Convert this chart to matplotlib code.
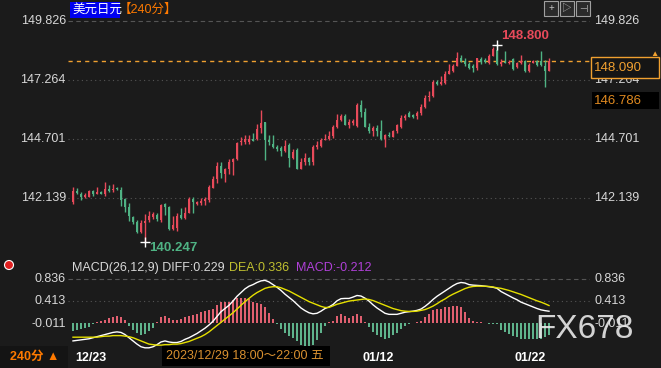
import matplotlib
matplotlib.use("Agg")
import matplotlib.pyplot as plt
from matplotlib.patches import Rectangle, Ellipse
import numpy as np

plt.rcParams['font.family'] = ['Liberation Sans', 'Noto Sans CJK SC', 'DejaVu Sans']

# 240-minute USD/JPY candles (open, high, low, close)
opens = [141.96, 142.44, 142.31, 142.17, 142.20, 142.43, 142.32, 142.38, 142.30, 142.52,
         142.48, 142.56, 142.49, 142.08, 141.76, 141.33, 141.11, 140.65, 141.07, 141.20,
         141.32, 141.40, 141.18, 141.86, 141.76, 140.79, 140.83, 141.40, 141.28, 141.50,
         142.10, 141.87, 141.90, 142.00, 142.05, 142.59, 142.96, 143.54, 143.18, 143.38,
         143.70, 143.82, 144.55, 144.58, 144.55, 144.70, 144.69, 145.17, 145.43, 144.66,
         144.48, 144.34, 144.30, 144.19, 144.44, 143.89, 144.22, 143.40, 143.71, 143.86,
         143.71, 144.37, 144.40, 144.66, 144.70, 144.83, 145.24, 145.53, 145.70, 145.31,
         145.40, 145.27, 146.18, 145.89, 145.22, 145.05, 145.18, 145.05, 144.70, 144.88,
         144.80, 145.04, 145.24, 145.60, 145.82, 145.76, 145.70, 145.84, 146.11, 146.52,
         146.58, 147.19, 147.09, 147.12, 147.52, 147.66, 147.89, 148.21, 148.09, 147.94,
         147.87, 147.77, 148.17, 148.13, 148.02, 148.31, 148.57, 147.97, 148.06, 147.99,
         148.16, 147.82, 148.00, 148.09, 147.65, 148.02, 148.09, 148.09, 147.87, 147.67]
highs = [142.62, 142.56, 142.40, 142.35, 142.50, 142.49, 142.60, 142.46, 142.83, 142.70,
         142.75, 142.60, 142.60, 142.14, 141.91, 141.36, 141.19, 141.18, 141.43, 141.58,
         141.53, 141.50, 141.88, 141.92, 141.78, 141.36, 141.49, 141.70, 141.74, 142.18,
         142.18, 142.00, 142.12, 142.20, 142.69, 143.10, 143.71, 143.70, 143.43, 143.85,
         143.89, 144.57, 144.80, 144.87, 144.88, 144.95, 145.35, 145.96, 145.45, 144.87,
         144.87, 144.46, 144.39, 144.66, 144.53, 144.26, 144.30, 143.88, 144.09, 143.93,
         144.45, 144.61, 144.75, 144.93, 145.06, 145.32, 145.79, 145.79, 145.79, 145.58,
         145.58, 146.25, 146.40, 146.04, 145.41, 145.27, 145.30, 145.53, 144.92, 145.00,
         145.08, 145.35, 145.75, 145.79, 145.90, 145.78, 145.92, 146.24, 146.62, 146.79,
         147.28, 147.28, 147.45, 147.64, 147.94, 147.94, 148.47, 148.35, 148.22, 148.05,
         147.94, 148.24, 148.26, 148.20, 148.40, 148.70, 148.80, 148.16, 148.54, 148.13,
         148.20, 148.05, 148.35, 148.13, 147.98, 148.13, 148.13, 148.54, 148.13, 148.22]
lows = [141.88, 142.31, 142.07, 142.13, 142.18, 142.21, 142.30, 142.30, 142.24, 142.40,
        142.40, 142.50, 141.80, 141.52, 141.15, 141.00, 140.62, 140.60, 140.247, 141.09,
        141.22, 141.15, 141.08, 141.41, 140.74, 140.76, 140.71, 141.23, 141.23, 141.48,
        141.50, 141.82, 141.85, 141.85, 141.97, 142.57, 142.80, 143.00, 142.85, 143.18,
        143.14, 143.79, 144.44, 144.50, 144.48, 144.63, 144.66, 144.97, 143.79, 144.45,
        144.30, 144.19, 143.98, 144.15, 143.50, 143.84, 143.40, 143.40, 143.58, 143.58,
        143.58, 144.27, 144.36, 144.66, 144.66, 144.74, 145.20, 145.50, 145.31, 145.18,
        145.33, 145.24, 145.64, 145.24, 144.95, 144.85, 144.85, 144.66, 144.34, 144.77,
        144.77, 144.98, 145.20, 145.53, 145.65, 145.62, 145.57, 145.76, 146.05, 146.35,
        146.52, 147.06, 147.05, 147.08, 147.51, 147.60, 147.89, 148.03, 147.89, 147.74,
        147.63, 147.70, 147.96, 148.00, 147.94, 148.31, 147.92, 147.88, 147.99, 147.94,
        147.70, 147.78, 147.96, 147.60, 147.60, 147.98, 147.88, 147.88, 146.97, 147.67]
closes = [142.44, 142.35, 142.20, 142.28, 142.46, 142.30, 142.41, 142.33, 142.53, 142.46,
          142.53, 142.52, 142.05, 141.75, 141.36, 141.08, 140.68, 141.07, 141.15, 141.35,
          141.43, 141.22, 141.84, 141.76, 140.78, 140.97, 141.36, 141.28, 141.50, 142.10,
          141.95, 141.98, 141.99, 142.10, 142.60, 142.98, 143.54, 143.24, 143.38, 143.72,
          143.82, 144.52, 144.60, 144.69, 144.70, 144.63, 145.14, 145.41, 144.66, 144.56,
          144.34, 144.28, 144.19, 144.40, 143.89, 144.14, 143.40, 143.71, 143.86, 143.71,
          144.37, 144.44, 144.66, 144.72, 144.82, 145.24, 145.53, 145.70, 145.31, 145.45,
          145.50, 146.18, 145.89, 145.24, 145.05, 145.17, 145.06, 144.70, 144.87, 144.83,
          145.04, 145.30, 145.61, 145.70, 145.65, 145.66, 145.84, 146.11, 146.49, 146.58,
          147.19, 147.10, 147.16, 147.52, 147.66, 147.89, 148.21, 148.09, 147.94, 147.80,
          147.77, 148.21, 148.06, 148.04, 148.31, 148.60, 147.97, 148.06, 147.99, 148.06,
          147.73, 148.01, 148.09, 147.65, 147.92, 148.09, 147.92, 147.92, 147.67, 148.09]

# MACD(26,12,9) lines
diff = [-0.33, -0.32, -0.31, -0.30, -0.29, -0.27, -0.25, -0.23, -0.21, -0.19,
        -0.17, -0.16, -0.17, -0.21, -0.27, -0.33, -0.39, -0.44, -0.46, -0.46,
        -0.44, -0.40, -0.35, -0.33, -0.35, -0.36, -0.36, -0.34, -0.30, -0.27,
        -0.23, -0.19, -0.14, -0.09, -0.03, 0.04, 0.13, 0.22, 0.28, 0.34,
        0.42, 0.51, 0.58, 0.65, 0.70, 0.73, 0.77, 0.80, 0.81, 0.78,
        0.73, 0.68, 0.62, 0.55, 0.49, 0.43, 0.36, 0.29, 0.24, 0.20,
        0.18, 0.19, 0.23, 0.28, 0.31, 0.355, 0.425, 0.465, 0.47, 0.47,
        0.495, 0.525, 0.515, 0.475, 0.42, 0.35, 0.29, 0.24, 0.19, 0.17,
        0.17, 0.17, 0.19, 0.21, 0.22, 0.23, 0.245, 0.27, 0.32, 0.38,
        0.45, 0.51, 0.56, 0.61, 0.66, 0.71, 0.75, 0.77, 0.76, 0.73,
        0.72, 0.715, 0.71, 0.70, 0.69, 0.68, 0.66, 0.60, 0.56, 0.52,
        0.48, 0.445, 0.40, 0.37, 0.34, 0.31, 0.28, 0.255, 0.24, 0.229]
dea = [-0.26, -0.26, -0.26, -0.26, -0.26, -0.26, -0.26, -0.25, -0.24, -0.24,
       -0.23, -0.23, -0.23, -0.24, -0.25, -0.27, -0.30, -0.33, -0.36, -0.39,
       -0.40, -0.41, -0.41, -0.40, -0.40, -0.39, -0.39, -0.38, -0.36, -0.34,
       -0.31, -0.28, -0.25, -0.21, -0.16, -0.10, -0.04, 0.02, 0.08, 0.14,
       0.20, 0.27, 0.34, 0.41, 0.47, 0.53, 0.58, 0.62, 0.66, 0.68,
       0.69, 0.69, 0.67, 0.64, 0.61, 0.57, 0.53, 0.49, 0.45, 0.41,
       0.38, 0.35, 0.32, 0.30, 0.30, 0.33, 0.36, 0.38, 0.40, 0.42,
       0.43, 0.44, 0.45, 0.46, 0.45, 0.43, 0.40, 0.37, 0.34, 0.31,
       0.28, 0.26, 0.24, 0.23, 0.225, 0.225, 0.23, 0.245, 0.26, 0.29,
       0.325, 0.37, 0.42, 0.46, 0.51, 0.55, 0.585, 0.62, 0.655, 0.68,
       0.695, 0.70, 0.70, 0.70, 0.695, 0.685, 0.67, 0.66, 0.64, 0.62,
       0.595, 0.57, 0.545, 0.515, 0.485, 0.455, 0.425, 0.40, 0.37, 0.336]

price_ticks = [149.826, 147.264, 144.701, 142.139]
price_tick_labels = ['149.826', '147.264', '144.701', '142.139']
macd_ticks = [0.836, 0.413, -0.011]
macd_tick_labels = ['0.836', '0.413', '-0.011']
date_labels = ['12/23', '01/12', '01/22']
date_pos = [4.5, 76.3, 114.3]

BG = '#1b1b1b'
UP = '#e84a5a'
DOWN = '#4fb384'
GRID = '#555555'
TXT = '#d8d8d8'
ORANGE = '#f0a030'

W, H = 661, 368


def fx(x):
    return x / W


def fy(y):
    return 1 - y / H


def fig_rect(x0, y0, x1, y1, **kw):
    # rectangle given in picture pixels (top-left origin)
    fig.patches.append(Rectangle((fx(x0), fy(y1)), fx(x1) - fx(x0), fy(y0) - fy(y1),
                                 transform=fig.transFigure, **kw))


fig = plt.figure(figsize=(6.61, 3.68), dpi=100, facecolor=BG)

ax = fig.add_axes([fx(68), fy(255), fx(590) - fx(68), fy(20) - fy(255)])
ax.set_facecolor(BG)
for s in ax.spines.values():
    s.set_visible(False)
ax.set_xticks([])
ax.set_yticks([])

o = np.array(opens)
h = np.array(highs)
l = np.array(lows)
c = np.array(closes)
idx = np.arange(len(o))
up = c >= o
cols = np.where(up, UP, DOWN)

ax.set_xlim(-1.25, 129.25)
ax.set_ylim(139.663, 149.869)

for i, t in enumerate(price_ticks):
    ls = (0, (4, 3)) if i == 0 else (0, (1, 3))
    ax.axhline(t, color=GRID, lw=0.8, ls=ls, zorder=0)
    ax.text(-0.004, t, price_tick_labels[i], transform=ax.get_yaxis_transform(),
            ha='right', va='center', color=TXT, fontsize=9)
    ax.text(1.008, t, price_tick_labels[i], transform=ax.get_yaxis_transform(),
            ha='left', va='center', color=TXT, fontsize=9)

ax.vlines(idx, l, h, colors=cols, lw=1, zorder=2)
body = np.maximum(np.abs(c - o), 0.025)
ax.bar(idx, body, bottom=np.minimum(o, c), width=0.72, color=cols, lw=0, zorder=3)

# last price line
ax.axhline(closes[-1], color=ORANGE, lw=1, ls=(0, (3, 3)), zorder=1)

# high / low markers
imax = int(np.argmax(h))
imin = int(np.argmin(l))
ax.plot(imax, h[imax], marker='+', color='white', ms=7, mew=1, zorder=4)
ax.plot(imin, l[imin], marker='+', color='white', ms=7, mew=1, zorder=4)
ax.annotate(f'{h[imax]:.3f}', (imax, h[imax]), xytext=(3, 6), textcoords='offset points',
            color=UP, fontsize=9.5, fontweight='bold', ha='left', va='center')
ax.annotate(f'{l[imin]:.3f}', (imin, l[imin]), xytext=(3, -5), textcoords='offset points',
            color=DOWN, fontsize=9.5, fontweight='bold', ha='left', va='center')

# MACD panel
mx = fig.add_axes([fx(68), fy(350), fx(590) - fx(68), fy(270) - fy(350)])
mx.set_facecolor(BG)
for s in mx.spines.values():
    s.set_visible(False)
mx.set_xticks([])
mx.set_yticks([])
mx.set_xlim(-1.25, 129.25)
mx.set_ylim(-0.501, 1.005)

d = np.array(diff)
e = np.array(dea)
hist = 2 * (d - e)
for i, t in enumerate(macd_ticks):
    ls = (0, (4, 3)) if i == 0 else (0, (1, 3))
    if i < 2:
        mx.axhline(t, color=GRID, lw=0.8, ls=ls, zorder=0)
    mx.text(-0.004, t, macd_tick_labels[i], transform=mx.get_yaxis_transform(),
            ha='right', va='center', color=TXT, fontsize=9)
    mx.text(1.008, t, macd_tick_labels[i], transform=mx.get_yaxis_transform(),
            ha='left', va='center', color=TXT, fontsize=9)

mx.bar(idx, hist, bottom=0, width=0.32, color=np.where(hist >= 0, '#e06070', '#5fb38c'), lw=0)
mx.plot(idx, d, color='white', lw=1)
mx.plot(idx, e, color='#e6e000', lw=1)

for lab, p in zip(date_labels, date_pos):
    mx.text(p, -0.10, lab, transform=mx.get_xaxis_transform(), ha='center', va='center',
            color='white', fontsize=9, fontweight='bold')

# header texts
fig_rect(70, 2, 120, 18, fc='#0000f0', ec='none')
fig.text(fx(72), fy(10), '美元日元', color='white', fontsize=9, va='center', ha='left')
fig.text(fx(119), fy(10), '【240分】', color='#ff7a00', fontsize=9, va='center', ha='left')

y_h = fy(268)
fig.text(fx(72), y_h, 'MACD(26,12,9) DIFF:0.229', color=TXT, fontsize=9, va='center')
fig.text(fx(229), y_h, 'DEA:0.336', color='#c0c030', fontsize=9, va='center')
fig.text(fx(296), y_h, 'MACD:-0.212', color='#b040d8', fontsize=9, va='center')

# right-side price boxes
fig_rect(591, 57, 659, 78, fc='#151515', ec=ORANGE, lw=1)
fig.text(fx(594), fy(68), f'{closes[-1]:.3f}', color=ORANGE, fontsize=9.5, va='center', ha='left')
fig_rect(592, 92, 659, 109, fc='black', ec='none')
fig.text(fx(594), fy(100.5), '146.786', color='#e08a20', fontsize=9.5, va='center', ha='left')
fig.text(fx(654), fy(54), '▲', color=ORANGE, fontsize=6, va='center', ha='center')

# top-right icons
for x0, g in zip([544, 560, 576], ['+', '▷', '⊣']):
    fig_rect(x0, 1, x0 + 14, 16, fc='#2a2a2a', ec='#a0a0a0', lw=0.8)
    fig.text(fx(x0 + 7), fy(8.5), g, color='#c0c0c0', fontsize=7, ha='center', va='center')

# left icon in MACD header
fig.patches.append(Ellipse((fx(9), fy(265)), fx(9), 9 / H, transform=fig.transFigure,
                           fc='#e02020', ec='white', lw=0.8))

# bottom strip
fig_rect(0, 346, 68, 368, fc='#141414', ec='none')
fig.text(fx(10), fy(357), '240分 ▲', color='#ff7a00', fontsize=9, fontweight='bold', va='center')
fig_rect(162, 346, 330, 366, fc='black', ec='none')
fig.text(fx(166), fy(356), '2023/12/29 18:00～22:00 五', color='#d89030', fontsize=9, va='center')

# watermark
fig.text(fx(535), fy(330), 'FX678', color='#e8e8e8', alpha=0.9, fontsize=24, va='center', ha='left')

fig.savefig('out.png', dpi=100, facecolor=BG)
